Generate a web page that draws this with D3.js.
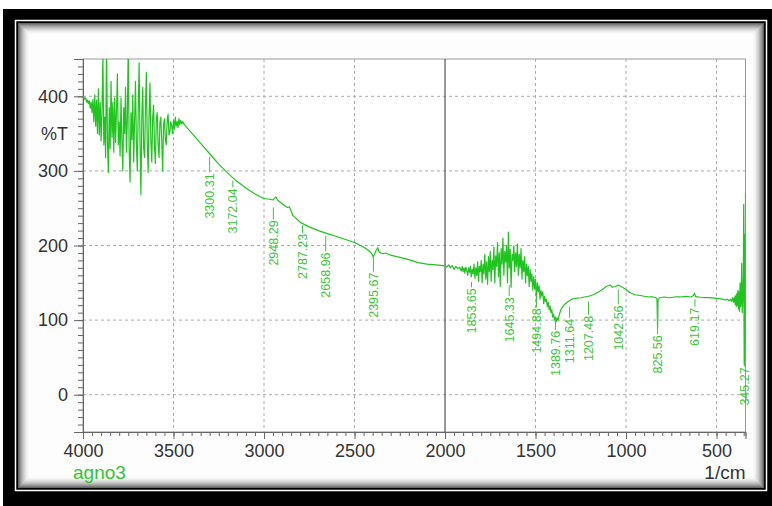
<!DOCTYPE html>
<html>
<head>
<meta charset="utf-8">
<script src="https://cdn.jsdelivr.net/npm/d3@7"></script>
<style>
  body { margin: 0; background: #fff; }
  svg { display: block; font-family: "Liberation Sans", Arial, sans-serif; }
</style>
</head>
<body>
<svg id="chart" width="772" height="506"></svg>
<script>
// spectrum, [wavenumber (1/cm), %T]
const regionOH = [
  [4000,400],[3995,399],[3990,396],[3985,398],[3980,392],[3975,395],[3970,390],[3965,394],[3960,384],[3955,392],
  [3950,378],[3945,396],[3940,366],[3935,402],[3930,360],[3925,395],[3920,350],[3915,410],[3910,348],[3905,392],
  [3900,340],[3895,380],[3890,455],[3885,335],[3880,372],[3875,318],[3870,470],[3865,340],[3860,298],[3855,385],
  [3850,330],[3845,420],[3840,345],[3835,392],[3830,325],[3825,398],[3820,338],[3815,380],[3810,430],[3805,335],
  [3800,365],[3795,320],[3790,398],[3785,340],[3780,300],[3775,385],[3770,350],[3765,412],[3760,325],[3755,370],
  [3750,470],[3745,330],[3740,285],[3735,378],[3730,342],[3725,402],[3720,312],[3715,368],[3710,420],[3705,335],
  [3700,300],[3695,380],[3690,445],[3685,340],[3680,268],[3675,372],[3670,412],[3665,330],[3660,318],[3655,385],
  [3650,432],[3645,338],[3640,298],[3635,375],[3630,418],[3625,340],[3620,312],[3615,372],[3610,388],[3605,332],
  [3600,310],[3595,370],[3590,378],[3585,335],[3580,318],[3575,365],[3570,372],[3565,340],[3560,300],[3555,362],
  [3550,370],[3545,342],[3540,335],[3535,368],[3530,376],[3525,348],[3520,352],[3515,366],[3510,360],[3505,350],
  [3500,368],[3495,356],[3490,372],[3485,360],[3480,366],[3475,358],[3470,370],[3465,362],[3460,368],[3455,363],
  [3450,366]
];

const regionCH = [
  [3440,362],[3400,351],[3350,337],[3300,323],[3250,309],[3200,297],[3150,286],[3100,277],[3050,269],[3000,263],
  [2970,262],[2950,261],[2940,264],[2934,265],[2925,261],[2910,258],[2890,254],[2870,251],[2860,252],[2850,246],
  [2840,240],[2800,231],[2750,225],[2700,220],[2650,216],[2600,212],[2550,208],[2500,204],[2450,198],[2420,193],
  [2405,189],[2398,185],[2390,188],[2380,194],[2372,197],[2365,192],[2355,190],[2343,189],[2330,190],[2300,187],
  [2250,184],[2200,181],[2150,177],[2100,175],[2050,174],[2010,173]
];

const regionMid = [
  [2000,173],[1990,171],[1980,174],[1970,170],[1960,173],[1950,168],[1940,172],[1930,169],[1920,171],[1910,166],
  [1905,172],[1900,165],[1895,170],[1890,163],[1885,171],[1880,167],[1875,160],[1870,170],[1865,164],[1860,172],
  [1855,158],[1850,168],[1845,162],[1840,175],[1835,156],[1830,170],[1825,160],[1820,178],[1815,152],[1810,172],
  [1805,165],[1800,180],[1795,150],[1790,175],[1785,162],[1780,188],[1775,155],[1770,178],[1765,148],[1760,185],
  [1755,165],[1750,192],[1745,152],[1740,180],[1735,168],[1730,198],[1725,150],[1720,186],[1715,172],[1710,204],
  [1705,158],[1700,190],[1695,145],[1690,196],[1685,175],[1680,210],[1675,160],[1670,192],[1665,178],[1660,200],
  [1655,150],[1650,218],[1645,170],[1640,195],[1635,144],[1630,188],[1625,180],[1620,200],[1615,165],[1610,190],
  [1605,172],[1600,202],[1595,160],[1590,188],[1585,170],[1580,196],[1575,155],[1570,180],[1565,165],[1560,185],
  [1555,150],[1550,175],[1545,160],[1540,172],[1535,145],[1530,168],[1525,152],[1520,162],[1515,140],[1510,158],
  [1505,142],[1500,155],[1495,130],[1490,150],[1485,138],[1480,146],[1475,128],[1470,140],[1465,132],[1460,138],
  [1455,122],[1450,132],[1445,125],[1440,128],[1435,118],[1430,124],[1425,114],[1420,119],[1415,110],[1410,114],
  [1405,104],[1400,108],[1395,100],[1390,104],[1385,98],[1380,103],[1375,100],[1370,106],[1365,110],[1360,114],
  [1350,118],[1340,121]
];

const regionFinger = [
  [1320,125],[1300,128],[1280,129],[1250,130],[1230,131],[1207,132],[1180,134],[1150,138],[1130,141],[1110,145],
  [1100,146],[1088,147],[1075,144],[1060,145],[1042,147],[1020,144],[1000,141],[980,137],[950,134],[920,133],
  [900,132],[870,131],[850,131],[835,130],[829,128],[826,90],[823,127],[815,130],[790,131],[760,130],
  [730,131],[700,131],[670,132],[640,131],[628,133],[622,136],[619,134],[614,131],[600,131],[570,130],
  [540,130],[500,129],[470,128],[450,127],[440,128]
];

const regionEnd = [
  [430,126],[420,128],[415,125],[410,130],[405,124],[400,131],[397,121],[394,133],[391,118],[388,136],
  [385,120],[382,140],[379,115],[376,138],[373,112],[370,150],[367,118],[364,125],[361,176],[358,110],
  [355,128],[352,160],[350,255],[348,90],[347,40],[346,150],[345,42],[344,215],[343,120],[342,190],
  [341,60],[340,271]
];

// peak labels: wavenumber, %T at top of leader, %T where the text starts
const peakWn = [3300.31, 3172.04, 2948.29, 2787.23, 2658.96, 2395.67, 1853.65, 1645.33,
                1494.88, 1389.76, 1311.64, 1207.48, 1042.56, 825.56, 619.17, 345.27];
const peakTop = [319, 287, 251, 227, 213, 185, 151, 147, 134, 101, 118, 125, 141, 124, 128, 44];
const peakText = [298, 278, 235, 217, 192, 165, 144, 132, 117, 87, 103, 107, 121, 81, 118, 38];

const yTicks = [0, 100, 200, 300, 400];
const xTicks = [4000, 3500, 3000, 2500, 2000, 1500, 1000, 500];
const sampleName = "agno3";

const spectrum = regionOH.concat(regionCH, regionMid, regionFinger, regionEnd);

const svg = d3.select("#chart");
const plotLeft = 83, plotTop = 59, plotRight = 745.5, plotBottom = 432;

const x = d3.scaleLinear().domain([4000, 340]).range([plotLeft, plotRight]);
const y = d3.scaleLinear().domain([-50, 450]).range([plotBottom, plotTop]);

// frame
svg.append("rect").attr("width", 772).attr("height", 506).attr("fill", "#fff");
svg.append("rect").attr("x", 3).attr("y", 9).attr("width", 769).attr("height", 497).attr("fill", "#000");
svg.append("rect").attr("x", 15.5).attr("y", 20.5).attr("width", 751).attr("height", 470)
  .attr("fill", "none").attr("stroke", "#fff").attr("stroke-width", 1.5);
svg.append("rect").attr("x", 18).attr("y", 23).attr("width", 746).attr("height", 465).attr("fill", "#fdfdfd");
for (let i = 0; i < 12; i++) {
  svg.append("rect")
    .attr("x", 18 + i + 0.5).attr("y", 23 + i + 0.5)
    .attr("width", 746 - 2 * i - 1).attr("height", 465 - 2 * i - 1)
    .attr("fill", "none")
    .attr("stroke", `rgba(0,0,0,${(0.6 * Math.pow(1 - i / 12, 2)).toFixed(3)})`);
}

// plot area
svg.append("rect").attr("x", plotLeft).attr("y", plotTop)
  .attr("width", plotRight - plotLeft).attr("height", plotBottom - plotTop)
  .attr("fill", "#fff").attr("stroke", "#999");

svg.append("clipPath").attr("id", "plotClip").append("rect")
  .attr("x", plotLeft).attr("y", plotTop)
  .attr("width", plotRight - plotLeft).attr("height", plotBottom - plotTop);

// grid
svg.append("g").selectAll("line").data(yTicks).enter().append("line")
  .attr("x1", plotLeft).attr("x2", plotRight).attr("y1", d => y(d)).attr("y2", d => y(d))
  .attr("stroke", "#aaa").attr("stroke-dasharray", "3,3");
svg.append("g").selectAll("line").data(xTicks.filter(d => d !== 4000)).enter().append("line")
  .attr("x1", d => x(d)).attr("x2", d => x(d)).attr("y1", plotTop).attr("y2", plotBottom)
  .attr("stroke", d => d === 2000 ? "#555" : "#aaa")
  .attr("stroke-width", d => d === 2000 ? 1.2 : 1)
  .attr("stroke-dasharray", d => d === 2000 ? null : "3,3");

// axes
const styleAxis = (g) => {
  g.select(".domain").attr("stroke", "#666");
  g.selectAll(".tick line").attr("stroke", "#666");
  g.selectAll("text").attr("fill", "#333").style("font-size", "18px")
    .style("font-family", "'Liberation Sans', Arial, sans-serif");
};

svg.append("g").attr("transform", `translate(${plotLeft},0)`)
  .call(d3.axisLeft(y).tickValues(d3.range(-50, 451, 10)).tickSize(5).tickFormat(""))
  .call(styleAxis);
svg.append("g").attr("transform", `translate(${plotLeft},0)`)
  .call(d3.axisLeft(y).tickValues(yTicks).tickSize(9).tickPadding(6))
  .call(styleAxis);

svg.append("g").attr("transform", `translate(0,${plotBottom})`)
  .call(d3.axisBottom(x).tickValues(d3.range(4000, 340, -50)).tickSize(4).tickFormat(""))
  .call(styleAxis);
svg.append("g").attr("transform", `translate(0,${plotBottom})`)
  .call(d3.axisBottom(x).tickValues(xTicks).tickSize(7).tickPadding(5).tickFormat(d3.format("d")))
  .call(styleAxis);

svg.append("text").attr("x", 68).attr("y", y(350)).attr("dy", "0.35em")
  .attr("text-anchor", "end").attr("fill", "#333").style("font-size", "18px").text("%T");

svg.append("text").attr("x", 73).attr("y", 479)
  .attr("fill", "#33c433").style("font-size", "19px").text(sampleName);

svg.append("text").attr("x", plotRight).attr("y", 479).attr("text-anchor", "end")
  .attr("fill", "#333").style("font-size", "19px").text("1/cm");

// spectrum
const line = d3.line().x(d => x(d[0])).y(d => y(d[1]));
svg.append("path")
  .datum(spectrum)
  .attr("clip-path", "url(#plotClip)")
  .attr("fill", "none")
  .attr("stroke", "#1fc41f")
  .attr("stroke-width", 1.2)
  .attr("stroke-linejoin", "round")
  .attr("d", line);

// peak labels
const peaks = peakWn.map((wn, i) => ({ wn, top: peakTop[i], text: peakText[i] }));
const labels = svg.append("g").selectAll("g").data(peaks).enter().append("g");
labels.append("line")
  .attr("x1", d => x(d.wn)).attr("x2", d => x(d.wn))
  .attr("y1", d => y(d.top)).attr("y2", d => y(d.text))
  .attr("stroke", "#3cc43c");
labels.append("text")
  .attr("transform", d => `translate(${x(d.wn)},${y(d.text) + 1}) rotate(-90)`)
  .attr("text-anchor", "end")
  .attr("dy", "0.35em")
  .attr("fill", "#3cc43c")
  .style("font-size", "12.5px")
  .text(d => d.wn.toFixed(2));
</script>
</body>
</html>
